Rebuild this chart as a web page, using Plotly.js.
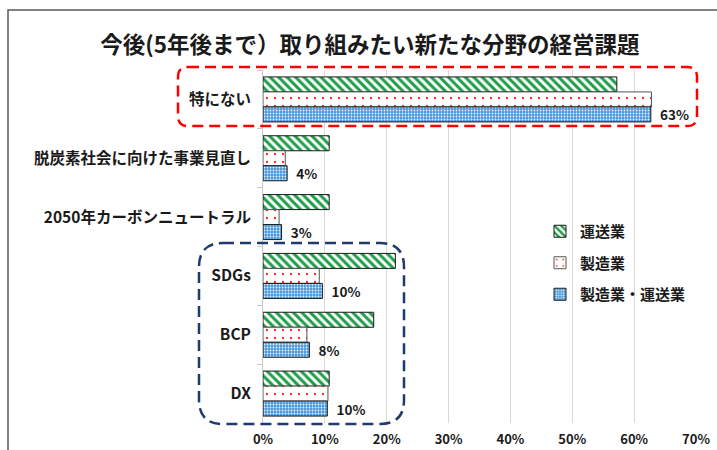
<!DOCTYPE html>
<html>
<head>
<meta charset="utf-8">
<script src="https://cdn.plot.ly/plotly-3.0.1.min.js"></script>
<style>html,body{margin:0;padding:0;background:#fff;}#chart{width:717px;height:450px;}</style>
</head>
<body>
<div id="chart"></div>
<script>
// ---- data ----
const categories = ["特にない", "脱炭素社会に向けた事業見直し", "2050年カーボンニュートラル", "SDGs", "BCP", "DX"];
const seriesNames = ["運送業", "製造業", "製造業・運送業"];
const transport = [57.2, 10.7, 10.7, 21.4, 17.9, 10.7];
const manufacturing = [62.8, 3.6, 2.6, 9.1, 7.1, 10.5];
const combined = [62.7, 3.9, 3.0, 9.6, 7.5, 10.4];
const xTickVals = [0, 10, 20, 30, 40, 50, 60, 70];
const xTickText = xTickVals.map(v => '<b>' + v + '%</b>');

// ---- layout geometry (pixels) ----
const W = 717, H = 450;
const M = {l: 263, r: 21, t: 70, b: 27};
const PW = W - M.l - M.r, PH = H - M.t - M.b;
const px = p => (p - M.l) / PW;
const py = p => (H - M.b - p) / PH;
function rrect(x0, y0, x1, y1, r) {
  const P = (x, y) => px(x) + ',' + py(y);
  return 'M' + P(x0 + r, y0) + ' L' + P(x1 - r, y0) + ' Q' + P(x1, y0) + ' ' + P(x1, y0 + r) +
    ' L' + P(x1, y1 - r) + ' Q' + P(x1, y1) + ' ' + P(x1 - r, y1) +
    ' L' + P(x0 + r, y1) + ' Q' + P(x0, y1) + ' ' + P(x0, y1 - r) +
    ' L' + P(x0, y0 + r) + ' Q' + P(x0, y0) + ' ' + P(x0 + r, y0) + ' Z';
}

const FONT = '"Noto Sans CJK JP", "Noto Sans", sans-serif';

const traces = [
  {
    type: 'bar', orientation: 'h', name: seriesNames[0], y: categories, x: transport,
    legendgroup: 'a',
    marker: {color: '#ffffff', line: {color: '#1a1a1a', width: 1},
      pattern: {shape: '\\', fgcolor: '#1f9e4a', bgcolor: '#ffffff', size: 6, solidity: 0.5, fillmode: 'replace'}},
    hoverinfo: 'x+y'
  },
  {
    type: 'bar', orientation: 'h', name: seriesNames[1], y: categories, x: manufacturing,
    legendgroup: 'b',
    marker: {color: '#ffffff', line: {color: '#555555', width: 1},
      pattern: {shape: '.', fgcolor: '#ff3030', bgcolor: '#ffffff', size: 8, solidity: 0.07, fillmode: 'replace'}},
    hoverinfo: 'x+y'
  },
  {
    type: 'bar', orientation: 'h', name: seriesNames[2], y: categories, x: combined,
    legendgroup: 'c',
    texttemplate: '<b>  %{x:.0f}%</b>', textposition: 'outside', cliponaxis: false, constraintext: 'none',
    textfont: {family: FONT, size: 13.5, color: '#1a1a1a'},
    marker: {color: '#ffffff', line: {color: '#1a1a1a', width: 1},
      pattern: {shape: '.', fgcolor: '#e8f3fd', bgcolor: '#4a98de', size: 3, solidity: 0.3, fillmode: 'replace'}},
    hoverinfo: 'x+y'
  }
];

const layout = {
  width: W, height: H,
  margin: M,
  paper_bgcolor: '#ffffff', plot_bgcolor: '#ffffff',
  font: {family: FONT, color: '#1a1a1a'},
  barmode: 'group', bargap: 0.235, bargroupgap: 0,
  title: {
    text: '<b>今後(5年後まで）取り組みたい新たな分野の経営課題</b>',
    font: {family: FONT, size: 22.5, color: '#1a1a1a'},
    xref: 'container', yref: 'container', x: 0.516, xanchor: 'center', y: 0.9, yanchor: 'middle'
  },
  xaxis: {
    range: [0, 70], tickmode: 'array', tickvals: xTickVals, ticktext: xTickText,
    showgrid: true, gridcolor: '#d9d9d9', gridwidth: 1,
    zeroline: false, showline: false, ticks: '', ticklabelstandoff: 7,
    tickfont: {family: FONT, size: 13, color: '#1a1a1a'}, fixedrange: true
  },
  yaxis: {
    type: 'category', autorange: 'reversed', showgrid: false, zeroline: false,
    showline: true, linecolor: '#c8c8c8', linewidth: 1,
    ticks: 'outside', tickson: 'boundaries', ticklen: 5, tickcolor: '#c8c8c8',
    ticklabelstandoff: 8,
    tickfont: {family: FONT, size: 15.5, color: '#1a1a1a', weight: 'bold'}, fixedrange: true
  },
  legend: {
    x: px(540), y: py(215), xanchor: 'left', yanchor: 'top',
    traceorder: 'grouped', tracegroupgap: 9, itemwidth: 30,
    font: {family: FONT, size: 15, color: '#1a1a1a', weight: 'bold'},
    bgcolor: 'rgba(255,255,255,0)'
  },
  shapes: [
    {type: 'path', xref: 'paper', yref: 'paper', path: rrect(8, 10, 760, 480, 0),
      line: {color: '#595959', width: 1.5}, layer: 'above'},
    {type: 'path', xref: 'paper', yref: 'paper', path: rrect(178, 67, 697, 126, 10),
      line: {color: '#ff0000', width: 2.5, dash: '11px,6px'}, layer: 'above'},
    {type: 'path', xref: 'paper', yref: 'paper', path: rrect(199, 243, 404, 424, 24),
      line: {color: '#1f3a6e', width: 2.5, dash: '11px,6px'}, layer: 'above'}
  ]
};

Plotly.newPlot('chart', traces, layout, {displayModeBar: false, staticPlot: true});
</script>
</body>
</html>
